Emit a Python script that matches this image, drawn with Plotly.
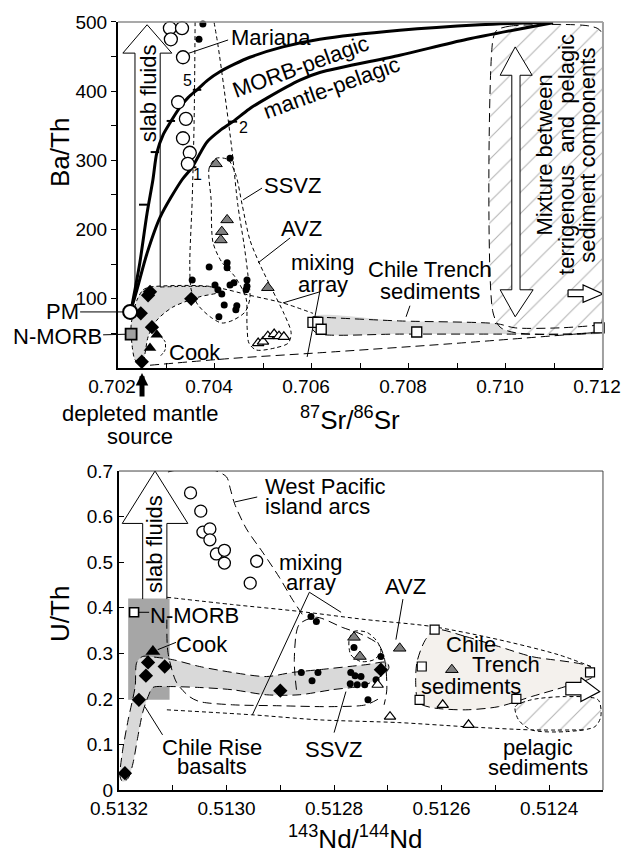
import plotly.graph_objects as go

FONT = "Liberation Sans, Arial, sans-serif"

# ================= TOP PANEL: Ba/Th vs 87Sr/86Sr =================
mariana_sr = [0.70307, 0.70332, 0.70309, 0.70334, 0.70324, 0.70340, 0.70334, 0.70348, 0.70344]
mariana_bath = [491, 491, 475, 449, 384, 360, 332, 311, 295]

dots_sr = [0.70375, 0.70367, 0.70431, 0.70353, 0.70388, 0.70425, 0.70425, 0.70400, 0.70406, 0.70414,
           0.70431, 0.70439, 0.70466, 0.70466, 0.70464, 0.70419, 0.70445, 0.70443, 0.70408]
dots_bath = [497, 475, 303, 127, 146, 152, 145, 120, 113, 107, 120, 123, 127, 118, 113, 91, 90, 84, 74]

gtri_sr = [0.70402, 0.70425, 0.70414, 0.70412, 0.70509]
gtri_bath = [295, 214, 197, 185, 116]

otri_sr = [0.70489, 0.70499, 0.70509, 0.70522, 0.70532, 0.70542]
otri_bath = [36, 38, 46, 49, 46, 45]

dia_sr = [0.70266, 0.70262, 0.70351, 0.70247, 0.70270, 0.70249]
dia_bath = [110, 105, 100, 79, 59, 9]

cook_sr = [0.70280, 0.70266]
cook_bath = [48, 29]

trench_sr = [0.70602, 0.70612, 0.70619, 0.70816, 0.71192]
trench_bath = [66, 66, 56, 52, 58]

pm_sr, pm_bath = [0.70225], [81]
nmorb_sr, nmorb_bath = [0.70227], [49]

# mixing curves
morbpel_sr = [0.70229, 0.70235, 0.70245, 0.70260, 0.70272, 0.70280, 0.70293, 0.70307, 0.70328, 0.70345,
              0.70363, 0.70385, 0.70410, 0.70440, 0.70472, 0.70540, 0.70616, 0.70781, 0.70946, 0.71097]
morbpel_bath = [91, 113, 152, 224, 272, 311, 337, 354, 377, 391, 402, 416, 428, 439, 449, 464, 475, 488, 496, 500]
mantpel_sr = [0.70227, 0.70239, 0.70260, 0.70287, 0.70332, 0.70353, 0.70369, 0.70384, 0.70410, 0.70437,
              0.70470, 0.70507, 0.70575, 0.70616, 0.70781, 0.70920, 0.71097]
mantpel_bath = [84, 113, 166, 218, 272, 290, 310, 327, 343, 356, 374, 390, 416, 427, 452, 475, 499]
morb_tick_sr = [0.70252, 0.70276, 0.70309, 0.70363]
morb_tick_bath = [236, 312, 357, 402]
mant_tick_sr = [0.70353, 0.70437]
mant_tick_bath = [290, 356]

# fields (outlines)
band1_sr = [0.70239, 0.70252, 0.70266, 0.70396, 0.70410, 0.70369, 0.70313, 0.70280, 0.70262, 0.70256,
            0.70249, 0.70235, 0.70229, 0.70227, 0.70239]
band1_bath = [98, 113, 117, 117, 110, 103, 88, 69, 45, 22, 4, 12, 33, 62, 98]
band2_sr = [0.70602, 0.70781, 0.70981, 0.71019, 0.71111, 0.71194, 0.71194, 0.71111, 0.70988, 0.70781,
            0.70616, 0.70602, 0.70602]
band2_bath = [74, 68, 64, 58, 58, 62, 51, 49, 49, 49, 49, 55, 74]
ssvz_sr = [0.70359, 0.70357, 0.70353, 0.70348, 0.70351, 0.70365, 0.70390, 0.70414, 0.70437, 0.70462,
           0.70472, 0.70468, 0.70460, 0.70447, 0.70435, 0.70419, 0.70406, 0.70398]
ssvz_bath = [500, 358, 243, 149, 113, 91, 74, 65, 69, 81, 101, 134, 178, 236, 315, 402, 467, 500]
avz_sr = [0.70402, 0.70388, 0.70392, 0.70396, 0.70414, 0.70441, 0.70464, 0.70466, 0.70470, 0.70485,
          0.70524, 0.70551, 0.70557, 0.70542, 0.70518, 0.70493, 0.70472, 0.70456, 0.70443, 0.70427, 0.70402]
avz_bath = [303, 289, 243, 181, 153, 132, 101, 62, 36, 26, 29, 36, 51, 79, 113, 149, 185, 236, 279, 301, 303]
mixup_sr = [0.70287, 0.70396, 0.70472, 0.70540, 0.70602]
mixup_bath = [117, 117, 105, 94, 79]
mixlo_sr = [0.70266, 0.70437, 0.70616, 0.70885, 0.71179]
mixlo_bath = [4, 14, 22, 35, 51]
sedmix_sr = [0.70981, 0.71008, 0.71173, 0.71196, 0.71196, 0.71184, 0.71019, 0.70988, 0.70973, 0.70973, 0.70981]
sedmix_bath = [488, 494, 494, 486, 62, 52, 51, 59, 81, 474, 488]
cookbr_sr = [0.70287, 0.70297, 0.70297, 0.70287]
cookbr_bath = [46, 38, 26, 17]

# arrows (outlines)
slab1_sr = [0.70235, 0.70235, 0.70210, 0.70260, 0.70311, 0.70287, 0.70287]
slab1_bath = [113, 455, 455, 496, 455, 455, 117]
dbl_sr = [0.71012, 0.70988, 0.71019, 0.71054, 0.71029, 0.71029, 0.71056, 0.71019, 0.70988, 0.71012, 0.71012]
dbl_bath = [423, 423, 464, 423, 423, 113, 113, 74, 113, 113, 423]
rarr1_sr = [0.71128, 0.71159, 0.71159, 0.71200, 0.71159, 0.71159, 0.71128, 0.71128]
rarr1_bath = [113, 113, 120, 107, 95, 103, 103, 113]

# leaders
lead_mariana = ([0.70334, 0.70427], [452, 474])
lead_ssvz1 = ([0.70458, 0.70497], [243, 260])
lead_avz1 = ([0.70489, 0.70555], [152, 188])
lead_mix1 = ([0.70540, 0.70616, 0.70590], [94, 110, 16])
lead_trench1 = ([0.70794, 0.70802], [74, 90])

# ================= BOTTOM PANEL: U/Th vs 143Nd/144Nd =================
wp_nd = [0.513067, 0.513048, 0.513044, 0.513031, 0.513031, 0.513019, 0.513004, 0.513004, 0.512944, 0.512956]
wp_uth = [0.652, 0.612, 0.566, 0.573, 0.549, 0.518, 0.526, 0.498, 0.502, 0.454]

bdots_nd = [0.512861, 0.512841, 0.512830, 0.512769, 0.512761, 0.512750, 0.512770, 0.512757, 0.512743,
            0.512722, 0.512737, 0.512763, 0.512713, 0.512843, 0.512833]
bdots_uth = [0.258, 0.240, 0.258, 0.258, 0.251, 0.249, 0.233, 0.231, 0.231, 0.242, 0.198, 0.313, 0.293,
             0.381, 0.370]

bgtri_nd = [0.512763, 0.512752, 0.512678, 0.512581]
bgtri_uth = [0.335, 0.293, 0.311, 0.264]
botri_nd = [0.512719, 0.512696, 0.512598, 0.512550]
botri_uth = [0.231, 0.161, 0.187, 0.143]
bdia_nd = [0.513189, 0.513163, 0.513150, 0.513146, 0.513115, 0.512900, 0.512713]
bdia_uth = [0.037, 0.198, 0.251, 0.280, 0.271, 0.218, 0.264]
bcook_nd, bcook_uth = [0.513137], [0.304]
bnmorb_nd, bnmorb_uth = [0.513172], [0.390]
btrench_nd = [0.512613, 0.512637, 0.512641, 0.512461, 0.512324]
btrench_uth = [0.352, 0.271, 0.198, 0.200, 0.258]

nbox_nd = [0.513183, 0.513106, 0.513106, 0.513183, 0.513183]
nbox_uth = [0.42, 0.42, 0.198, 0.198, 0.42]
bband_nd = [0.513198, 0.513194, 0.513183, 0.513170, 0.513167, 0.513156, 0.513130, 0.513100, 0.513050,
            0.512989, 0.512926, 0.512878, 0.512828, 0.512741, 0.512702, 0.512698, 0.512702, 0.512741,
            0.512804, 0.512865, 0.512926, 0.512989, 0.513050, 0.513111, 0.513137, 0.513146, 0.513156,
            0.513165, 0.513174, 0.513183, 0.513193, 0.513198]
bband_uth = [0.029, 0.081, 0.154, 0.227, 0.280, 0.293, 0.291, 0.286, 0.271, 0.258, 0.249, 0.258, 0.264,
             0.275, 0.280, 0.269, 0.260, 0.231, 0.220, 0.209, 0.209, 0.220, 0.225, 0.227, 0.225, 0.205,
             0.170, 0.117, 0.059, 0.026, 0.018, 0.029]
bmixup_nd = [0.513111, 0.512989, 0.512865, 0.512741, 0.512619, 0.512494, 0.512383, 0.512322]
bmixup_uth = [0.423, 0.407, 0.392, 0.374, 0.359, 0.330, 0.297, 0.271]
bmixlo_nd = [0.513111, 0.512952, 0.512828, 0.512680, 0.512556, 0.512433, 0.512333]
bmixlo_uth = [0.176, 0.165, 0.154, 0.148, 0.139, 0.132, 0.132]
blong_nd = [0.513111, 0.513109, 0.513093, 0.513069, 0.513050, 0.512989, 0.512907, 0.512804, 0.512741, 0.512713]
blong_uth = [0.374, 0.302, 0.236, 0.205, 0.194, 0.187, 0.185, 0.183, 0.187, 0.203]
bssvz_nd = [0.512870, 0.512874, 0.512865, 0.512833, 0.512785, 0.512748, 0.512717, 0.512706, 0.512702, 0.512707]
bssvz_uth = [0.220, 0.286, 0.363, 0.379, 0.357, 0.341, 0.319, 0.286, 0.220, 0.187]
bwp_nd = [0.513109, 0.513069, 0.513026, 0.513000, 0.512993, 0.512985, 0.512963, 0.512933, 0.512902, 0.512878, 0.512859]
bwp_uth = [0.698, 0.707, 0.703, 0.687, 0.661, 0.628, 0.573, 0.522, 0.467, 0.419, 0.385]
btr_nd = [0.512611, 0.512556, 0.512494, 0.512433, 0.512322, 0.512319, 0.512370, 0.512433, 0.512494, 0.512556,
          0.512619, 0.512643, 0.512648, 0.512646, 0.512630, 0.512611]
btr_uth = [0.352, 0.337, 0.315, 0.293, 0.269, 0.249, 0.227, 0.205, 0.183, 0.176, 0.181, 0.192, 0.227, 0.280,
           0.330, 0.352]
bpel_nd = [0.512457, 0.512463, 0.512433, 0.512370, 0.512309, 0.512304, 0.512315, 0.512370, 0.512433, 0.512457]
bpel_uth = [0.154, 0.183, 0.198, 0.205, 0.198, 0.161, 0.139, 0.128, 0.132, 0.154]
bell_nd = [0.512772, 0.512763, 0.512739, 0.512720, 0.512713, 0.512726, 0.512750, 0.512769, 0.512772]
bell_uth = [0.330, 0.348, 0.346, 0.326, 0.304, 0.286, 0.282, 0.297, 0.330]

slab2_nd = [0.513156, 0.513156, 0.513194, 0.513133, 0.513072, 0.513111, 0.513111]
slab2_uth = [0.419, 0.585, 0.585, 0.700, 0.585, 0.585, 0.419]
rarr2_nd = [0.512369, 0.512341, 0.512341, 0.512306, 0.512341, 0.512341, 0.512369, 0.512369]
rarr2_uth = [0.236, 0.236, 0.247, 0.216, 0.194, 0.209, 0.209, 0.236]

blead_wp = ([0.512985, 0.512943], [0.632, 0.643])
blead_mix = ([0.512787, 0.512846, 0.512952], [0.390, 0.434, 0.165])
blead_avz = ([0.512672, 0.512685], [0.419, 0.330])
blead_nm = ([0.513165, 0.513144], [0.390, 0.390])
blead_cook = ([0.513128, 0.513094], [0.308, 0.324])
blead_rise = ([0.513152, 0.513119], [0.183, 0.121])
blead_ssvz = ([0.512800, 0.512778], [0.126, 0.216])

# tick values / labels
sr_ticks = [0.702, 0.704, 0.706, 0.708, 0.710, 0.712]
sr_text = ["0.702", "0.704", "0.706", "0.708", "0.710", "0.712"]
sr_minor = [0.703, 0.705, 0.707, 0.709, 0.711]
bath_ticks = [100, 200, 300, 400, 500]
bath_text = ["100", "200", "300", "400", "500"]
bath_minor = [50, 150, 250, 350, 450]
nd_ticks = [0.5132, 0.5130, 0.5128, 0.5126, 0.5124]
nd_text = ["0.5132", "0.5130", "0.5128", "0.5126", "0.5124"]
nd_minor = [0.5131, 0.5129, 0.5127, 0.5125, 0.5123]
uth_ticks = [0, 0.1, 0.2, 0.3, 0.4, 0.5, 0.6, 0.7]
uth_text = ["0", "0.1", "0.2", "0.3", "0.4", "0.5", "0.6", "0.7"]

# ================= FIGURE =================
fig = go.Figure()


def line(x, y, ax, dash="solid", width=1, color="black", fill=None, fillcolor=None, pattern=None,
         smooth=True):
    kw = {}
    if pattern is not None:
        kw["fillpattern"] = pattern
    fig.add_trace(go.Scatter(x=x, y=y, xaxis=ax[0], yaxis=ax[1], mode="lines",
                             line=dict(color=color, width=width, dash=dash,
                                       shape="spline" if smooth else "linear", smoothing=0.8),
                             fill=fill, fillcolor=fillcolor, hoverinfo="skip", **kw))


def pts(x, y, ax, symbol, size, fill, lw=1.0, lc="black"):
    fig.add_trace(go.Scatter(x=x, y=y, xaxis=ax[0], yaxis=ax[1], mode="markers",
                             marker=dict(symbol=symbol, size=size, color=fill,
                                         line=dict(color=lc, width=lw)),
                             hoverinfo="skip", cliponaxis=False))


T = ("x", "y")
B = ("x2", "y2")
SD = "4px,3px"
LD = "9px,5px"
tex = dict(shape="/", fgcolor="#666", bgcolor="white", size=15, solidity=0.07)

# ---- top panel ----
line(band1_sr, band1_bath, T, width=0, fill="toself", fillcolor="#d9d9d9")
line(band2_sr, band2_bath, T, width=0, fill="toself", fillcolor="#dcdcdc")
line(sedmix_sr, sedmix_bath, T, dash=LD, width=1, fill="toself", fillcolor="rgba(255,255,255,0)", pattern=tex)
line(band1_sr, band1_bath, T, dash=SD)
line(band2_sr[:6], band2_bath[:6], T, dash=LD)
line(band2_sr[6:], band2_bath[6:], T, dash=LD)
line(ssvz_sr, ssvz_bath, T, dash=SD)
line(avz_sr, avz_bath, T, dash=SD)
line(mixup_sr, mixup_bath, T, dash=SD)
line(mixlo_sr, mixlo_bath, T, dash=LD)
line(cookbr_sr, cookbr_bath, T, dash="3px,2px")
line(slab1_sr, slab1_bath, T, width=1, smooth=False)
line(dbl_sr, dbl_bath, T, width=1, fill="toself", fillcolor="white", smooth=False)
line(rarr1_sr, rarr1_bath, T, width=1.2, fill="toself", fillcolor="white", smooth=False)
for lx, ly in [lead_mariana, lead_ssvz1, lead_avz1, lead_mix1, lead_trench1]:
    line(lx, ly, T, width=1, smooth=False)
line(morbpel_sr, morbpel_bath, T, width=3)
line(mantpel_sr, mantpel_bath, T, width=3)
pts(morb_tick_sr, morb_tick_bath, T, "line-ew", 6, "black", lw=2)
pts(mant_tick_sr, mant_tick_bath, T, "line-ew", 6, "black", lw=2)

pts(mariana_sr, mariana_bath, T, "circle", 13, "white", lw=1.3)
pts(dots_sr, dots_bath, T, "circle", 7, "black", lw=0)
pts(gtri_sr, gtri_bath, T, "triangle-up", 11, "#808080", lw=1)
pts(otri_sr, otri_bath, T, "triangle-up", 10, "white", lw=1.2)
pts(dia_sr, dia_bath, T, "diamond", 11, "black", lw=0)
pts(cook_sr, cook_bath, T, "triangle-up", 11, "black", lw=0)
pts(trench_sr, trench_bath, T, "square", 10, "white", lw=1.3)
pts(pm_sr, pm_bath, T, "circle", 14, "white", lw=2)
pts(nmorb_sr, nmorb_bath, T, "square", 11, "#a0a0a0", lw=1.8)

# ---- bottom panel ----
line(nbox_nd, nbox_uth, B, width=0, fill="toself", fillcolor="#a6a6a6", smooth=False)
line(btr_nd, btr_uth, B, width=0, fill="toself", fillcolor="#f4f1ed")
line(bband_nd, bband_uth, B, width=0, fill="toself", fillcolor="#d9d9d9")
line(bpel_nd, bpel_uth, B, dash=SD, width=1, fill="toself", fillcolor="rgba(255,255,255,0)", pattern=tex)
line(bband_nd, bband_uth, B, dash=LD)
line(btr_nd, btr_uth, B, dash=LD)
line(bmixup_nd, bmixup_uth, B, dash=SD)
line(bmixlo_nd, bmixlo_uth, B, dash=SD)
line(blong_nd, blong_uth, B, dash=LD)
line(bssvz_nd, bssvz_uth, B, dash=LD)
line(bwp_nd, bwp_uth, B, dash=LD)
line(bell_nd, bell_uth, B, dash=SD)
line(slab2_nd, slab2_uth, B, width=1, smooth=False)
line(rarr2_nd, rarr2_uth, B, width=1.2, fill="toself", fillcolor="white", smooth=False)
for lx, ly in [blead_wp, blead_mix, blead_avz, blead_nm, blead_cook, blead_rise, blead_ssvz]:
    line(lx, ly, B, width=1, smooth=False)

pts(wp_nd, wp_uth, B, "circle", 12, "white", lw=1.3)
pts(bdots_nd, bdots_uth, B, "circle", 7, "black", lw=0)
pts(bgtri_nd, bgtri_uth, B, "triangle-up", 11, "#808080", lw=1)
pts(botri_nd, botri_uth, B, "triangle-up", 10, "white", lw=1.2)
pts(bdia_nd, bdia_uth, B, "diamond", 11, "black", lw=0)
pts(bcook_nd, bcook_uth, B, "triangle-up", 13, "black", lw=0)
pts(btrench_nd, btrench_uth, B, "square", 9, "white", lw=1.2)
pts(bnmorb_nd, bnmorb_uth, B, "square", 9, "white", lw=1.6)

# ---- axes ----
tick_font = dict(family=FONT, size=19, color="black")
ax_common = dict(showgrid=False, zeroline=False, showline=True, linecolor="black", linewidth=2,
                 tickfont=tick_font, tickcolor="black", ticklen=5, tickwidth=1, tickmode="array",
                 automargin=False, ticklabeloverflow="allow")

fig.update_layout(
    width=624, height=855, margin=dict(l=0, r=0, t=0, b=0, autoexpand=False),
    paper_bgcolor="white", plot_bgcolor="white", showlegend=False, hovermode=False,
    font=dict(family=FONT, color="black"),
    xaxis=dict(domain=[0.1891, 0.9663], range=[0.70199995, 0.71200005], anchor="y", ticks="inside",
               tickvals=sr_ticks, ticktext=sr_text, ticklabelshift=-6,
               minor=dict(tickvals=sr_minor, ticks="inside", ticklen=5, tickcolor="black"), **ax_common),
    yaxis=dict(domain=[0.5696, 0.9743], range=[0, 500.01], anchor="x", ticks="outside",
               tickvals=bath_ticks, ticktext=bath_text,
               minor=dict(tickvals=bath_minor, ticks="outside", ticklen=5, tickcolor="black"), **ax_common),
    xaxis2=dict(domain=[0.1907, 0.9663], range=[0.51320005, 0.51229995], anchor="y2", ticks="inside",
                tickvals=nd_ticks, ticktext=nd_text,
                minor=dict(tickvals=nd_minor, ticks="inside", ticklen=5, tickcolor="black"), **ax_common),
    yaxis2=dict(domain=[0.0760, 0.4491], range=[0, 0.70001], anchor="x2", ticks="inside",
                tickvals=uth_ticks, ticktext=uth_text, **ax_common),
)

# top/right frame lines
fig.add_shape(type="line", xref="x domain", yref="y domain", x0=0, x1=1, y0=1, y1=1,
              line=dict(color="#8c8c8c", width=1.5))
fig.add_shape(type="line", xref="x domain", yref="y domain", x0=1, x1=1, y0=0, y1=1,
              line=dict(color="#a0a0a0", width=2))
fig.add_shape(type="line", xref="x2 domain", yref="y2 domain", x0=0, x1=1, y0=1, y1=1,
              line=dict(color="#444", width=1))
fig.add_shape(type="line", xref="x2 domain", yref="y2 domain", x0=1, x1=1, y0=0, y1=1,
              line=dict(color="#444", width=1))

LF = dict(family=FONT, size=22, color="black")


def txt(x, y, s, xref="x", yref="y", size=22, angle=0, xanchor="center"):
    fig.add_annotation(x=x, y=y, xref=xref, yref=yref, text=s, showarrow=False,
                       font=dict(family=FONT, size=size, color="black"), textangle=angle,
                       xanchor=xanchor, yanchor="middle")


# top labels
txt(0.70515, 478, "Mariana")
txt(0.70577, 436, "MORB-pelagic", angle=-20)
txt(0.70641, 405, "mantle-pelagic", angle=-20)
txt(0.70262, 397, "slab fluids", angle=-90)
txt(0.70559, 263, "SSVZ")
txt(0.70579, 202, "AVZ")
txt(0.70623, 152, "mixing")
txt(0.70623, 121, "array")
txt(0.70843, 142, "Chile Trench")
txt(0.70843, 110, "sediments")
txt(0.71080, 308, "Mixture between", angle=-90)
txt(0.71126, 308, "terrigenous&nbsp;&nbsp;and&nbsp;&nbsp;pelagic", angle=-90)
txt(0.71169, 308, "sediment components", angle=-90)
txt(0.70344, 416, "5", size=16)
txt(0.70458, 347, "2", size=16)
txt(0.70363, 279, "1", size=16)
txt(0.70359, 22, "Cook")
fig.add_annotation(x=0.70225, y=81, xref="x", yref="y", text="PM", showarrow=True, arrowhead=0,
                   arrowwidth=1, arrowcolor="black", ax=-68, ay=0, standoff=7, font=LF)
fig.add_annotation(x=0.70227, y=49, xref="x", yref="y", text="N-MORB", showarrow=True, arrowhead=0,
                   arrowwidth=1, arrowcolor="black", ax=-74, ay=2, standoff=6, font=LF)
fig.add_annotation(x=0.2276, y=0.5637, xref="paper", yref="paper", text=" ", showarrow=True, arrowhead=2,
                   arrowsize=0.5, arrowwidth=5, arrowcolor="black", ax=0, ay=32)
txt(0.2244, 0.5158, "depleted mantle", xref="paper", yref="paper")
txt(0.2244, 0.4889, "source", xref="paper", yref="paper")
txt(0.0962, 0.8211, "Ba/Th", xref="paper", yref="paper", size=26, angle=-90)
txt(0.5609, 0.5110, "<sup>87</sup>Sr/<sup>86</sup>Sr", xref="paper", yref="paper", size=26)

# bottom labels
txt(0.512933, 0.667, "West Pacific", xref="x2", yref="y2", xanchor="left")
txt(0.512933, 0.623, "island arcs", xref="x2", yref="y2", xanchor="left")
txt(0.512843, 0.500, "mixing", xref="x2", yref="y2")
txt(0.512843, 0.456, "array", xref="x2", yref="y2")
txt(0.512667, 0.447, "AVZ", xref="x2", yref="y2")
txt(0.513059, 0.383, "N-MORB", xref="x2", yref="y2")
txt(0.513046, 0.319, "Cook", xref="x2", yref="y2")
txt(0.513028, 0.0925, "Chile Rise", xref="x2", yref="y2")
txt(0.513028, 0.0507, "basalts", xref="x2", yref="y2")
txt(0.512802, 0.088, "SSVZ", xref="x2", yref="y2")
txt(0.512546, 0.319, "Chile", xref="x2", yref="y2")
txt(0.512481, 0.275, "Trench", xref="x2", yref="y2")
txt(0.512546, 0.227, "sediments", xref="x2", yref="y2")
txt(0.512420, 0.0925, "pelagic", xref="x2", yref="y2")
txt(0.512420, 0.0485, "sediments", xref="x2", yref="y2")
txt(0.513133, 0.540, "slab fluids", xref="x2", yref="y2", angle=-90)
txt(0.0962, 0.2819, "U/Th", xref="paper", yref="paper", size=26, angle=-90)
txt(0.5689, 0.0199, "<sup>143</sup>Nd/<sup>144</sup>Nd", xref="paper", yref="paper", size=26)

fig.write_html("out.html", config={"displayModeBar": False, "staticPlot": True},
               post_script="document.body.style.margin='0px';")
